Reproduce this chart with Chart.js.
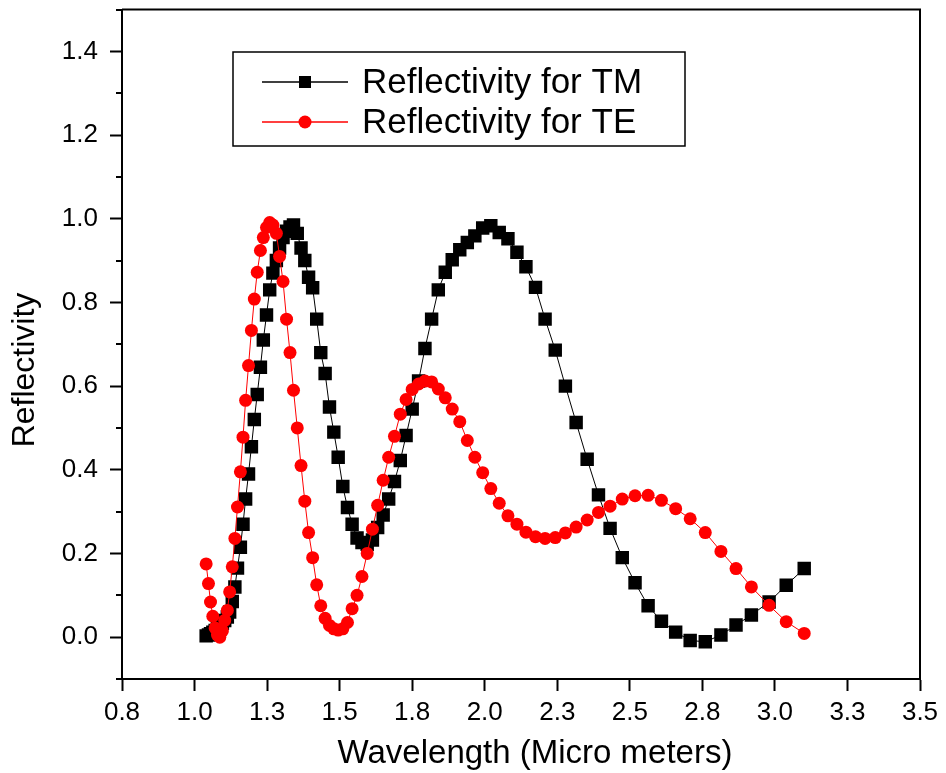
<!DOCTYPE html>
<html>
<head>
<meta charset="utf-8">
<title>Reflectivity</title>
<script src="https://cdn.jsdelivr.net/npm/chart.js@4.4.0/dist/chart.umd.min.js"></script>
<style>
  html, body { margin: 0; padding: 0; background: #fff; }
  #wrap { width: 946px; height: 773px; }
</style>
</head>
<body>
<div id="wrap"><canvas id="myChart" width="946" height="773"></canvas></div>
<script>
// ********* DATA *********
// wavelength (micro meters)
const wavelength = [
  1.040, 1.048, 1.055, 1.063, 1.071, 1.079, 1.087, 1.096, 1.104, 1.113,
  1.121, 1.130, 1.139, 1.148, 1.158, 1.167, 1.176, 1.186, 1.196, 1.206,
  1.216, 1.227, 1.237, 1.248, 1.259, 1.270, 1.282, 1.293, 1.305, 1.317,
  1.329, 1.341, 1.354, 1.367, 1.380, 1.393, 1.407, 1.421, 1.435, 1.450,
  1.465, 1.480, 1.495, 1.511, 1.527, 1.543, 1.560, 1.577, 1.595, 1.613,
  1.631, 1.650, 1.669, 1.689, 1.709, 1.729, 1.750, 1.772, 1.794, 1.817,
  1.840, 1.864, 1.888, 1.914, 1.940, 1.966, 1.993, 2.021, 2.050, 2.080,
  2.111, 2.142, 2.175, 2.208, 2.243, 2.278, 2.315, 2.353, 2.392, 2.432,
  2.474, 2.518, 2.563, 2.609, 2.658, 2.708, 2.760, 2.814, 2.866, 2.919,
  2.980, 3.039, 3.101
];

// reflectivity for TM (black squares)
const reflectTM = [
  0.003, 0.005, 0.008, 0.012, 0.016, 0.020, 0.026, 0.033, 0.040, 0.048,
  0.060, 0.085, 0.120, 0.165, 0.215, 0.270, 0.330, 0.390, 0.455, 0.520,
  0.580, 0.645, 0.710, 0.770, 0.830, 0.870, 0.900, 0.930, 0.955, 0.970,
  0.980, 0.985, 0.965, 0.930, 0.900, 0.860, 0.835, 0.760, 0.680, 0.630,
  0.550, 0.490, 0.430, 0.360, 0.310, 0.270, 0.237, 0.226, 0.222, 0.232,
  0.262, 0.292, 0.330, 0.372, 0.422, 0.482, 0.545, 0.612, 0.690, 0.760,
  0.830, 0.872, 0.902, 0.926, 0.943, 0.959, 0.978, 0.983, 0.967, 0.952,
  0.920, 0.885, 0.836, 0.760, 0.686, 0.600, 0.513, 0.425, 0.340, 0.260,
  0.190, 0.130, 0.075, 0.038, 0.012, -0.008, -0.011, 0.005, 0.029, 0.053,
  0.084, 0.124, 0.164
];

// reflectivity for TE (red circles)
const reflectTE = [
  0.175, 0.128, 0.084, 0.050, 0.022, 0.005, 0.000, 0.015, 0.040, 0.064,
  0.108, 0.168, 0.236, 0.311, 0.395, 0.478, 0.566, 0.649, 0.733, 0.808,
  0.872, 0.924, 0.955, 0.979, 0.991, 0.985, 0.965, 0.910, 0.850, 0.760,
  0.680, 0.590, 0.500, 0.410, 0.325, 0.250, 0.190, 0.125, 0.075, 0.045,
  0.028, 0.020, 0.017, 0.020, 0.035, 0.068, 0.100, 0.145, 0.200, 0.258,
  0.315, 0.375, 0.430, 0.480, 0.533, 0.568, 0.592, 0.605, 0.612, 0.610,
  0.593, 0.572, 0.545, 0.515, 0.470, 0.430, 0.393, 0.355, 0.320, 0.290,
  0.270, 0.251, 0.240, 0.236, 0.238, 0.249, 0.263, 0.280, 0.298, 0.313,
  0.330, 0.338, 0.339, 0.327, 0.307, 0.283, 0.250, 0.205, 0.164, 0.120,
  0.076, 0.037, 0.009
];

const seriesNames = ["Reflectivity for TM", "Reflectivity for TE"];

// axis ticks
const xTickValues = [0.75, 1.0, 1.25, 1.5, 1.75, 2.0, 2.25, 2.5, 2.75, 3.0, 3.25, 3.5];
const xTickLabels = ["0.8", "1.0", "1.3", "1.5", "1.8", "2.0", "2.3", "2.5", "2.8", "3.0", "3.3", "3.5"];
const yTickValues = [0.0, 0.2, 0.4, 0.6, 0.8, 1.0, 1.2, 1.4];
const yTickLabels = ["0.0", "0.2", "0.4", "0.6", "0.8", "1.0", "1.2", "1.4"];
const yMinorTicks = [-0.1, 0.1, 0.3, 0.5, 0.7, 0.9, 1.1, 1.3, 1.5];

const xTitle = "Wavelength (Micro meters)";
const yTitle = "Reflectivity";

const fontFamily = "'Liberation Sans', Arial, sans-serif";

// ********* PLUGINS *********

// top/right frame and minor ticks on y axis
const framePlugin = {
  id: "framePlugin",
  afterDraw: (chart) => {
    const ctx = chart.ctx;
    const area = chart.chartArea;
    const yScale = chart.scales.y;
    ctx.save();
    ctx.strokeStyle = "#000";
    ctx.lineWidth = 2;
    ctx.beginPath();
    ctx.moveTo(area.left, area.top);
    ctx.lineTo(area.right, area.top);
    ctx.lineTo(area.right, area.bottom);
    ctx.stroke();

    ctx.beginPath();
    yMinorTicks.forEach((v) => {
      const py = Math.round(yScale.getPixelForValue(v));
      ctx.moveTo(area.left, py);
      ctx.lineTo(area.left - 6, py);
    });
    ctx.stroke();
    ctx.restore();
  },
};

// axis titles
const titlePlugin = {
  id: "titlePlugin",
  afterDraw: (chart) => {
    const ctx = chart.ctx;
    ctx.save();
    ctx.fillStyle = "#000";
    ctx.textAlign = "center";
    ctx.textBaseline = "middle";
    ctx.font = "33px " + fontFamily;
    ctx.fillText(xTitle, 535, 754);

    ctx.translate(25, 370);
    ctx.rotate(-Math.PI / 2);
    ctx.font = "32px " + fontFamily;
    ctx.fillText(yTitle, 0, 0);
    ctx.restore();
  },
};

// legend box inside plot
const legendPlugin = {
  id: "legendPlugin",
  afterDraw: (chart) => {
    const ctx = chart.ctx;
    const box = { x: 233, y: 52, w: 452, h: 94 };
    ctx.save();
    ctx.fillStyle = "#fff";
    ctx.fillRect(box.x, box.y, box.w, box.h);
    ctx.strokeStyle = "#000";
    ctx.lineWidth = 1.5;
    ctx.strokeRect(box.x, box.y, box.w, box.h);

    chart.data.datasets.forEach((ds, i) => {
      const rowY = 82 + i * 40;
      ctx.strokeStyle = ds.borderColor;
      ctx.lineWidth = 1.5;
      ctx.beginPath();
      ctx.moveTo(262, rowY);
      ctx.lineTo(348, rowY);
      ctx.stroke();

      ctx.fillStyle = ds.backgroundColor;
      if (ds.pointStyle == "rect") {
        ctx.fillRect(305 - 6, rowY - 6, 12, 12);
      } else {
        ctx.beginPath();
        ctx.arc(305, rowY, 6.5, 0, Math.PI * 2);
        ctx.fill();
      }

      ctx.fillStyle = "#000";
      ctx.textAlign = "left";
      ctx.textBaseline = "middle";
      ctx.font = "35px " + fontFamily;
      ctx.fillText(ds.label, 362, rowY + 1);
    });
    ctx.restore();
  },
};

// ********* CHART *********

const toPoints = (xs, ys) => xs.map((x, i) => ({ x: x, y: ys[i] }));

const ctx = document.getElementById("myChart");

const myChartView = new Chart(ctx, {
  type: "line",
  data: {
    datasets: [
      {
        label: seriesNames[0],
        data: toPoints(wavelength, reflectTM),
        borderColor: "#000000",
        backgroundColor: "#000000",
        borderWidth: 1,
        pointStyle: "rect",
        pointRadius: 9.5,
        pointBorderWidth: 0,
        tension: 0,
        order: 1,
      },
      {
        label: seriesNames[1],
        data: toPoints(wavelength, reflectTE),
        borderColor: "#ff0000",
        backgroundColor: "#ff0000",
        borderWidth: 1,
        pointStyle: "circle",
        pointRadius: 6.5,
        pointBorderWidth: 0,
        tension: 0,
        order: 0,
      },
    ],
  },
  options: {
    responsive: false,
    animation: false,
    layout: { padding: { top: 7, right: 26, left: 0, bottom: 0 } },
    plugins: {
      legend: { display: false },
      tooltip: { enabled: false },
    },
    scales: {
      x: {
        type: "linear",
        min: 0.75,
        max: 3.5,
        afterBuildTicks: (scale) => {
          scale.ticks = xTickValues.map((v) => ({ value: v }));
        },
        afterFit: (scale) => {
          scale.height = 94;
          scale.paddingLeft = 0;
          scale.paddingRight = 0;
        },
        grid: {
          display: true,
          drawOnChartArea: false,
          drawTicks: true,
          tickLength: 12,
          tickWidth: 2,
          tickColor: "#000",
        },
        border: { display: true, color: "#000", width: 2 },
        ticks: {
          padding: 6,
          color: "#000",
          autoSkip: false,
          maxRotation: 0,
          font: { family: fontFamily, size: 26 },
          callback: (value, index) => xTickLabels[index],
        },
      },
      y: {
        min: -0.1,
        max: 1.5,
        afterBuildTicks: (scale) => {
          scale.ticks = yTickValues.map((v) => ({ value: v }));
        },
        afterFit: (scale) => {
          scale.width = 122;
          scale.paddingTop = 0;
          scale.paddingBottom = 0;
        },
        grid: {
          display: true,
          drawOnChartArea: false,
          drawTicks: true,
          tickLength: 12,
          tickWidth: 2,
          tickColor: "#000",
        },
        border: { display: true, color: "#000", width: 2 },
        ticks: {
          padding: 12,
          color: "#000",
          font: { family: fontFamily, size: 26 },
          callback: (value, index) => yTickLabels[index],
        },
      },
    },
  },
  plugins: [framePlugin, legendPlugin, titlePlugin],
});
</script>
</body>
</html>
